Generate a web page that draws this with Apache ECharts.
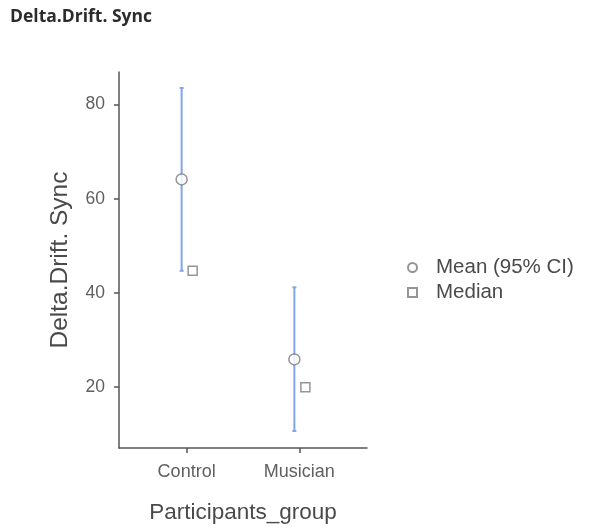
<!DOCTYPE html>
<html>
<head>
<meta charset="utf-8">
<script src="https://cdn.jsdelivr.net/npm/echarts@6/dist/echarts.min.js"></script>
<style>
html,body{margin:0;padding:0;background:#fff;}
#chart{width:594px;height:529px;}
</style>
</head>
<body>
<div id="chart"></div>
<script>
// ---- data ----
const categories = ['Control', 'Musician'];
const meanValues = [64.1, 25.9];
const ciLow = [44.7, 10.7];
const ciHigh = [83.5, 41.2];
const medianValues = [44.7, 20.0];
const yTickValues = [20, 40, 60, 80];

const chart = echarts.init(document.getElementById('chart'), null, {renderer: 'canvas'});

const FONT = 'Liberation Sans, Arial, sans-serif';
const AXIS_COLOR = '#555555';
const LABEL_COLOR = '#5f5f5f';
const CI_COLOR = '#82a5ef';
const MARK_COLOR = '#7a7a7a';
const MEAN_SHIFT = -5;   // px dodge
const MEDIAN_SHIFT = 6;  // px dodge

const catX = categories.map((c, i) => i + 1);

const option = {
  animation: false,
  backgroundColor: '#ffffff',
  title: {
    text: 'Delta.Drift. Sync',
    left: 5,
    top: 3,
    textStyle: {fontFamily: 'Open Sans, Noto Sans, sans-serif', fontWeight: 'bold', fontSize: 17.5, color: '#2b2b2b'}
  },
  grid: {left: 119, right: 227, top: 72, bottom: 81, containLabel: false},
  xAxis: {
    type: 'value',
    min: 0.4,
    max: 2.6,
    name: 'Participants_group',
    nameLocation: 'middle',
    nameGap: 53,
    nameTextStyle: {fontFamily: FONT, fontSize: 22.5, color: '#4a4a4a'},
    axisLine: {show: true, lineStyle: {color: AXIS_COLOR, width: 1.5}},
    axisTick: {show: true, length: 5, customValues: catX, lineStyle: {color: AXIS_COLOR, width: 1.5}},
    axisLabel: {
      customValues: catX,
      margin: 15,
      fontFamily: FONT, fontSize: 18, color: LABEL_COLOR,
      formatter: v => categories[Math.round(v) - 1] || ''
    },
    splitLine: {show: false}
  },
  yAxis: {
    type: 'value',
    min: 7.1,
    max: 86.9,
    name: 'Delta.Drift. Sync',
    nameLocation: 'middle',
    nameGap: 46,
    nameTextStyle: {fontFamily: FONT, fontSize: 24.5, color: '#4a4a4a'},
    axisLine: {show: true, lineStyle: {color: AXIS_COLOR, width: 1.5}},
    axisTick: {show: true, length: 5, customValues: yTickValues, lineStyle: {color: AXIS_COLOR, width: 1.5}},
    axisLabel: {customValues: yTickValues, margin: 14, fontFamily: FONT, fontSize: 17.5, color: LABEL_COLOR},
    splitLine: {show: false}
  },
  legend: {
    orient: 'vertical',
    left: 402,
    top: 252,
    itemGap: 4,
    itemWidth: 9,
    itemHeight: 9,
    textStyle: {fontFamily: FONT, fontSize: 20.5, color: '#4a4a4a', padding: [0, 0, 0, 14]},
    data: [
      {name: 'Mean (95% CI)', icon: 'circle'},
      {name: 'Median', icon: 'rect'}
    ]
  },
  series: [
    {
      name: 'CI',
      type: 'custom',
      z: 1,
      encode: {x: 0, y: [1, 2]},
      data: catX.map((x, i) => [x, ciLow[i], ciHigh[i]]),
      renderItem: function (params, api) {
        const x = api.value(0);
        const pLo = api.coord([x, api.value(1)]);
        const pHi = api.coord([x, api.value(2)]);
        const cx = pLo[0] + MEAN_SHIFT;
        const st = {stroke: CI_COLOR, lineWidth: 2};
        return {
          type: 'group',
          children: [
            {type: 'line', shape: {x1: cx, y1: pHi[1], x2: cx, y2: pLo[1]}, style: st},
            {type: 'line', shape: {x1: cx - 2, y1: pHi[1], x2: cx + 2, y2: pHi[1]}, style: st},
            {type: 'line', shape: {x1: cx - 2, y1: pLo[1], x2: cx + 2, y2: pLo[1]}, style: st}
          ]
        };
      }
    },
    {
      name: 'Mean (95% CI)',
      type: 'scatter',
      z: 3,
      symbol: 'circle',
      symbolSize: 11,
      symbolOffset: [MEAN_SHIFT, 0],
      itemStyle: {color: '#ffffff', borderColor: MARK_COLOR, borderWidth: 1.5},
      data: catX.map((x, i) => [x, meanValues[i]])
    },
    {
      name: 'Median',
      type: 'scatter',
      z: 3,
      symbol: 'rect',
      symbolSize: 9,
      symbolOffset: [MEDIAN_SHIFT, 0],
      itemStyle: {color: '#ffffff', borderColor: MARK_COLOR, borderWidth: 1.5},
      data: catX.map((x, i) => [x, medianValues[i]])
    }
  ]
};

chart.setOption(option);
</script>
</body>
</html>
